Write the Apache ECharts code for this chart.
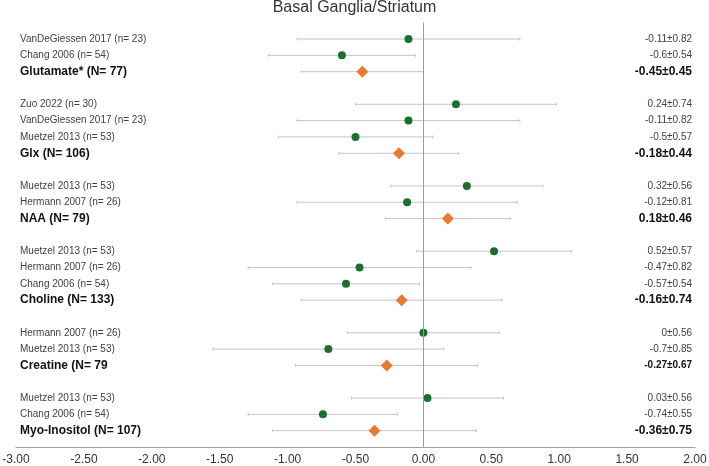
<!DOCTYPE html>
<html lang="en">

<head>
    <meta charset="UTF-8">
    <title>Basal Ganglia/Striatum</title>
    <script src="https://cdn.jsdelivr.net/npm/echarts@6/dist/echarts.min.js"></script>
    <style>
        html, body { margin: 0; padding: 0; background: #fff; }
        #main { width: 709px; height: 466px; }
    </style>
</head>

<body>
    <div id="main"></div>

    <script type="text/javascript">
        // one entry per row, '' rows are the gaps between metabolites
        const rowNames = [
            'VanDeGiessen 2017 (n= 23)', 'Chang 2006 (n= 54)', 'Glutamate* (N= 77)', '',
            'Zuo 2022 (n= 30)', 'VanDeGiessen 2017 (n= 23)', 'Muetzel 2013 (n= 53)', 'Glx (N= 106)', '',
            'Muetzel 2013 (n= 53)', 'Hermann 2007 (n= 26)', 'NAA (N= 79)', '',
            'Muetzel 2013 (n= 53)', 'Hermann 2007 (n= 26)', 'Chang 2006 (n= 54)', 'Choline (N= 133)', '',
            'Hermann 2007 (n= 26)', 'Muetzel 2013 (n= 53)', 'Creatine (N= 79', '',
            'Muetzel 2013 (n= 53)', 'Chang 2006 (n= 54)', 'Myo-Inositol (N= 107)'
        ];
        const rowMeans = [
            -0.11, -0.6, -0.45, null,
            0.24, -0.11, -0.5, -0.18, null,
            0.32, -0.12, 0.18, null,
            0.52, -0.47, -0.57, -0.16, null,
            0, -0.7, -0.27, null,
            0.03, -0.74, -0.36
        ];
        const rowSds = [
            0.82, 0.54, 0.45, null,
            0.74, 0.82, 0.57, 0.44, null,
            0.56, 0.81, 0.46, null,
            0.57, 0.82, 0.54, 0.74, null,
            0.56, 0.85, 0.67, null,
            0.56, 0.55, 0.75
        ];
        const rowPooled = [
            0, 0, 1, 0,
            0, 0, 0, 1, 0,
            0, 0, 1, 0,
            0, 0, 0, 1, 0,
            0, 0, 1, 0,
            0, 0, 1
        ];
        const rowValueText = [
            '-0.11±0.82', '-0.6±0.54', '-0.45±0.45', '',
            '0.24±0.74', '-0.11±0.82', '-0.5±0.57', '-0.18±0.44', '',
            '0.32±0.56', '-0.12±0.81', '0.18±0.46', '',
            '0.52±0.57', '-0.47±0.82', '-0.57±0.54', '-0.16±0.74', '',
            '0±0.56', '-0.7±0.85', '-0.27±0.67', '',
            '0.03±0.56', '-0.74±0.55', '-0.36±0.75'
        ];
        const xTicks = { min: -3, max: 2, step: 0.5 };

        const barData = [], studyData = [], pooledData = [];
        rowMeans.forEach(function (m, i) {
            if (m === null) return;
            barData.push([m - rowSds[i], m + rowSds[i], i]);
            (rowPooled[i] ? pooledData : studyData).push([m, i]);
        });

        // the creatine summary value is printed smaller in the original
        const smallBoldRows = [20];

        function leftLabel(v) {
            const t = rowNames[v];
            if (!t) return '';
            return rowPooled[v] ? '{b|' + t + '}' : '{n|' + t + '}';
        }

        function rightLabel(v) {
            const t = rowValueText[v];
            if (!t) return '';
            if (!rowPooled[v]) return '{n|' + t + '}';
            return smallBoldRows.indexOf(v) >= 0 ? '{s|' + t + '}' : '{b|' + t + '}';
        }

        const rowAxis = {
            type: 'value',
            inverse: true,
            min: -1,
            max: 25,
            interval: 1,
            axisLine: { show: false, onZero: false },
            axisTick: { show: false },
            splitLine: { show: false }
        };

        var myChart = echarts.init(document.getElementById('main'));
        option = {
            animation: false,
            textStyle: { fontFamily: 'Liberation Sans, Arial, sans-serif' },
            title: {
                text: 'Basal Ganglia/Striatum',
                left: 'center',
                top: 0,
                padding: 0,
                textStyle: { fontSize: 16, fontWeight: 'normal', color: '#333' }
            },
            grid: {
                left: 16,
                right: 14,
                top: 22.7,
                bottom: 19,
                containLabel: false,
                outerBoundsMode: 'none'
            },
            xAxis: {
                type: 'value',
                min: xTicks.min,
                max: xTicks.max,
                interval: xTicks.step,
                axisLine: { onZero: false, lineStyle: { color: '#a0a0a0', width: 1 } },
                axisTick: { show: false },
                splitLine: { show: false },
                axisLabel: {
                    margin: 7,
                    fontSize: 12,
                    color: '#333',
                    formatter: function (v) { return v.toFixed(2); }
                }
            },
            yAxis: [
                Object.assign({}, rowAxis, {
                    position: 'left',
                    axisLabel: {
                        inside: true,
                        margin: 4,
                        formatter: leftLabel,
                        rich: {
                            n: { fontSize: 10, color: '#404040' },
                            b: { fontSize: 12, fontWeight: 'bold', color: '#111' }
                        }
                    }
                }),
                Object.assign({}, rowAxis, {
                    position: 'right',
                    axisLabel: {
                        inside: true,
                        margin: 3,
                        formatter: rightLabel,
                        rich: {
                            n: { fontSize: 10, color: '#404040' },
                            b: { fontSize: 12, fontWeight: 'bold', color: '#111' },
                            s: { fontSize: 10, fontWeight: 'bold', color: '#111' }
                        }
                    }
                })
            ],
            series: [{
                type: 'custom',
                name: 'sd',
                yAxisIndex: 0,
                data: barData,
                encode: { x: [0, 1], y: 2 },
                renderItem: function (params, api) {
                    const lo = api.coord([api.value(0), api.value(2)]);
                    const hi = api.coord([api.value(1), api.value(2)]);
                    const st = { stroke: '#c4c4c4', lineWidth: 1 };
                    return {
                        type: 'group',
                        children: [
                            { type: 'line', shape: { x1: lo[0], y1: lo[1], x2: hi[0], y2: hi[1] }, style: st },
                            { type: 'line', shape: { x1: lo[0], y1: lo[1] - 1.5, x2: lo[0], y2: lo[1] + 1.5 }, style: st },
                            { type: 'line', shape: { x1: hi[0], y1: hi[1] - 1.5, x2: hi[0], y2: hi[1] + 1.5 }, style: st }
                        ]
                    };
                },
                markLine: {
                    silent: true,
                    symbol: 'none',
                    label: { show: false },
                    lineStyle: { color: '#9a9a9a', type: 'solid', width: 1 },
                    data: [{ xAxis: 0 }]
                }
            }, {
                type: 'scatter',
                name: 'study',
                yAxisIndex: 0,
                symbol: 'circle',
                symbolSize: 8,
                itemStyle: { color: '#1e6e2e', opacity: 1 },
                data: studyData
            }, {
                type: 'scatter',
                name: 'pooled',
                yAxisIndex: 0,
                symbol: 'diamond',
                symbolSize: [12, 12],
                itemStyle: { color: '#e8792f', opacity: 1 },
                data: pooledData
            }]
        };
        myChart.setOption(option);
        window.onresize = myChart.resize;
    </script>
</body>

</html>
